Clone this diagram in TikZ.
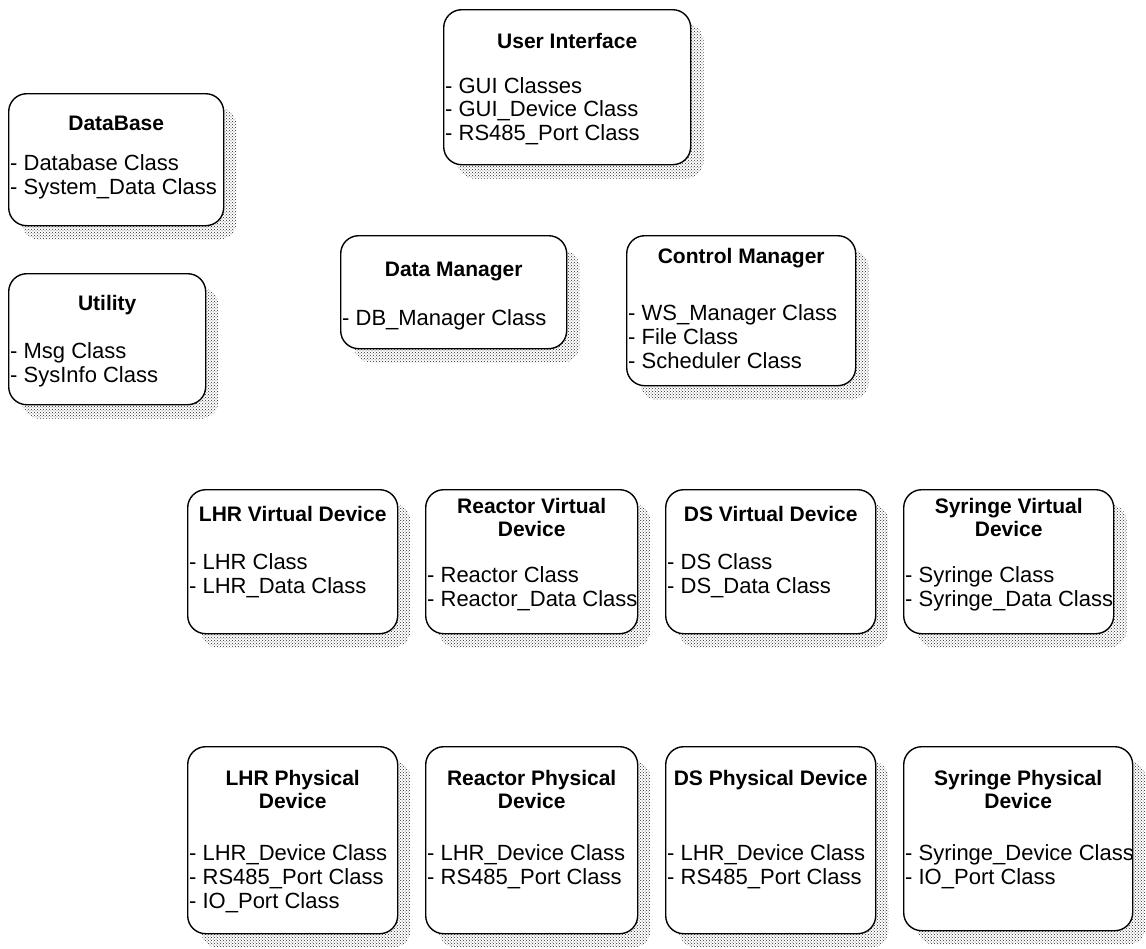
\documentclass[tikz,border=0pt]{standalone}
\usepackage{fontspec}
\setmainfont{Liberation Sans}
\usetikzlibrary{shadows,patterns}

\tikzset{
  classbox/.style={draw, line width=1.4pt, rounded corners=18pt, fill=white,
    inner sep=0pt, anchor=north west,
    drop shadow={shadow xshift=13pt, shadow yshift=-14pt, opacity=1,
      pattern=crosshatch dots, pattern color=black!85}},
  boxtitle/.style={anchor=base, inner sep=0pt, font=\fontsize{21}{24}\selectfont\bfseries},
  boxitem/.style={anchor=base west, inner sep=0pt, font=\fontsize{22}{24}\selectfont},
}

% place a class box from its top-left and bottom-right corners
\newcommand\classbox[5]{%
  \node[classbox, minimum width=\the\numexpr#4-#2\relax pt,
        minimum height=\the\numexpr#5-#3\relax pt] (#1) at (#2,#3) {};}

\begin{document}
\begin{tikzpicture}[x=1pt, y=-1pt]
\useasboundingbox (0,0) rectangle (1146,948);

% ---- top area ----
\classbox{ui}{443}{9}{690}{164}
\node[boxtitle] (ui-t) at (ui.north |- 0,48) {User Interface};
\node[boxitem] (ui-1) at (445,93) {- GUI Classes};
\node[boxitem] (ui-2) at (445,116) {- GUI\_Device Class};
\node[boxitem] (ui-3) at (445,140) {- RS485\_Port Class};

\classbox{db}{8}{93}{223}{225}
\node[boxtitle] (db-t) at (db.north |- 0,130) {DataBase};
\node[boxitem] (db-1) at (10,170) {- Database Class};
\node[boxitem] (db-2) at (10,194) {- System\_Data Class};

\classbox{util}{8}{273}{205}{404}
\node[boxtitle] (util-t) at (util.north |- 0,310) {Utility};
\node[boxitem] (util-1) at (10,358) {- Msg Class};
\node[boxitem] (util-2) at (10,382) {- SysInfo Class};

\classbox{dm}{340}{235}{566}{348}
\node[boxtitle] (dm-t) at (dm.north |- 0,276) {Data Manager};
\node[boxitem] (dm-1) at (342,325) {- DB\_Manager Class};

\classbox{cm}{626}{235}{855}{385}
\node[boxtitle] (cm-t) at (cm.north |- 0,263) {Control Manager};
\node[boxitem] (cm-1) at (628,320) {- WS\_Manager Class};
\node[boxitem] (cm-2) at (628,344) {- File Class};
\node[boxitem] (cm-3) at (628,368) {- Scheduler Class};

% ---- virtual devices ----
\classbox{lhrv}{187}{489}{397}{633}
\node[boxtitle] (lhrv-t) at (lhrv.north |- 0,521) {LHR Virtual Device};
\node[boxitem] (lhrv-1) at (189,569) {- LHR Class};
\node[boxitem] (lhrv-2) at (189,593) {- LHR\_Data Class};

\classbox{rv}{425}{489}{637}{633}
\node[boxtitle] (rv-t1) at (rv.north |- 0,513) {Reactor Virtual};
\node[boxtitle] (rv-t2) at (rv.north |- 0,536) {Device};
\node[boxitem] (rv-1) at (427,582) {- Reactor Class};
\node[boxitem] (rv-2) at (427,606) {- Reactor\_Data Class};

\classbox{dsv}{665}{489}{875}{633}
\node[boxtitle] (dsv-t) at (dsv.north |- 0,521) {DS Virtual Device};
\node[boxitem] (dsv-1) at (667,569) {- DS Class};
\node[boxitem] (dsv-2) at (667,593) {- DS\_Data Class};

\classbox{sv}{903}{489}{1113}{633}
\node[boxtitle] (sv-t1) at (sv.north |- 0,513) {Syringe Virtual};
\node[boxtitle] (sv-t2) at (sv.north |- 0,536) {Device};
\node[boxitem] (sv-1) at (905,582) {- Syringe Class};
\node[boxitem] (sv-2) at (905,606) {- Syringe\_Data Class};

% ---- physical devices ----
\classbox{lhrp}{187}{746}{397}{933}
\node[boxtitle] (lhrp-t1) at (lhrp.north |- 0,785) {LHR Physical};
\node[boxtitle] (lhrp-t2) at (lhrp.north |- 0,808) {Device};
\node[boxitem] (lhrp-1) at (189,860) {- LHR\_Device Class};
\node[boxitem] (lhrp-2) at (189,884) {- RS485\_Port Class};
\node[boxitem] (lhrp-3) at (189,908) {- IO\_Port Class};

\classbox{rp}{425}{746}{637}{933}
\node[boxtitle] (rp-t1) at (rp.north |- 0,785) {Reactor Physical};
\node[boxtitle] (rp-t2) at (rp.north |- 0,808) {Device};
\node[boxitem] (rp-1) at (427,860) {- LHR\_Device Class};
\node[boxitem] (rp-2) at (427,884) {- RS485\_Port Class};

\classbox{dsp}{665}{746}{875}{933}
\node[boxtitle] (dsp-t) at (dsp.north |- 0,785) {DS Physical Device};
\node[boxitem] (dsp-1) at (667,860) {- LHR\_Device Class};
\node[boxitem] (dsp-2) at (667,884) {- RS485\_Port Class};

\classbox{sp}{903}{746}{1132}{930}
\node[boxtitle] (sp-t1) at (sp.north |- 0,785) {Syringe Physical};
\node[boxtitle] (sp-t2) at (sp.north |- 0,808) {Device};
\node[boxitem] (sp-1) at (905,860) {- Syringe\_Device Class};
\node[boxitem] (sp-2) at (905,884) {- IO\_Port Class};
\end{tikzpicture}
\end{document}
